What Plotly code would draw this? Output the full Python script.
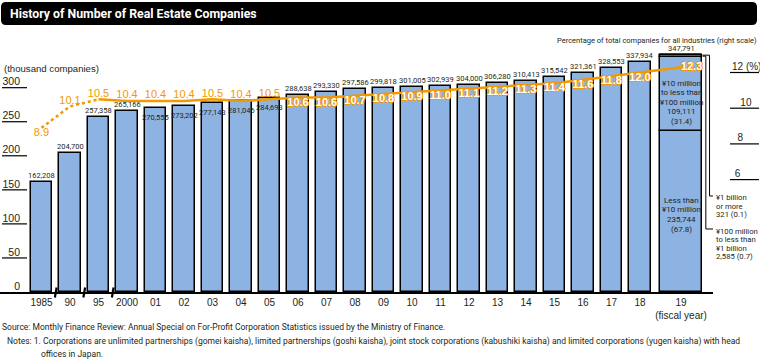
import numpy as np
import plotly.graph_objects as go

# ---------------- data ----------------
years = ["1985", "90", "95", "2000", "01", "02", "03", "04", "05", "06", "07", "08",
         "09", "10", "11", "12", "13", "14", "15", "16", "17", "18", "19"]
companies = [162208, 204700, 257358, 265166, 270555, 273202, 277143, 281046, 284693,
             288638, 293330, 297586, 299818, 301005, 302939, 304000, 306280, 310413,
             315542, 321361, 328553, 337934, 347791]
share_pct = [8.9, 10.1, 10.5, 10.4, 10.4, 10.4, 10.5, 10.4, 10.5, 10.6, 10.6, 10.7,
             10.8, 10.9, 11.0, 11.1, 11.2, 11.3, 11.4, 11.6, 11.8, 12.0, 12.3]
# FY2019 breakdown by capital size (bottom -> top)
cap_names = [["Less than", "¥10 million"],
             ["¥10 million", "to less than", "¥100 million"],
             ["¥100 million", "to less than", "¥1 billion"],
             ["¥1 billion", "or more"]]
cap_counts = [235744, 109111, 2585, 321]
cap_pct = [67.8, 31.4, 0.7, 0.1]
left_ticks = [0, 50, 100, 150, 200, 250, 300]
right_ticks = [6, 8, 10, 12]
right_tick_text = ["\u00a06", "\u00a0\u00a08", "\u00a0\u00a0\u00a010", "12 (%)"]

# ---------------- style ----------------
NARROW = "Roboto, Liberation Sans, sans-serif"
REG = "Liberation Sans, Arial, sans-serif"
INK = "#231f20"
BLUE = "#8db3e2"
ORANGE = "#f39800"

n = len(years)
xpos = np.arange(n, dtype=float)
xpos[-1] = 22.44          # wider FY2019 bar sits a little to the right
bar_w = 0.74
last_w = 1.5
vals_k = np.array(companies) / 1000.0
cap_k = np.array(cap_counts) / 1000.0
cap_base = np.concatenate([[0], np.cumsum(cap_k)[:-1]])

fig = go.Figure()

# main bars (1985 .. FY2018)
fig.add_trace(go.Bar(x=xpos[:-1], y=vals_k[:-1], width=bar_w,
                     marker=dict(color=BLUE, line=dict(color="black", width=1.5)),
                     hoverinfo="skip", showlegend=False))
# FY2019 stacked by capital size
for k in range(len(cap_k)):
    fig.add_trace(go.Bar(x=[xpos[-1]], y=[cap_k[k]], base=[cap_base[k]], width=last_w,
                         marker=dict(color=BLUE, line=dict(color="black", width=1.5)),
                         hoverinfo="skip", showlegend=False))

# percentage line (right scale)
fig.add_trace(go.Scatter(x=xpos[:3], y=share_pct[:3], mode="lines", yaxis="y2",
                         line=dict(color=ORANGE, width=2.5, dash="dot"),
                         hoverinfo="skip", showlegend=False))
fig.add_trace(go.Scatter(x=xpos[2:], y=share_pct[2:], mode="lines", yaxis="y2",
                         line=dict(color=ORANGE, width=2.5),
                         hoverinfo="skip", showlegend=False))
# percentage labels: above the line (orange) and inside bars (white, orange edge)
fig.add_trace(go.Scatter(x=xpos[:9], y=share_pct[:9], mode="text", yaxis="y2",
                         text=[f"{v:.1f}" for v in share_pct[:9]],
                         textposition=["bottom center"] + ["top center"] * 8,
                         textfont=dict(family=REG, size=11, color=ORANGE),
                         cliponaxis=False, hoverinfo="skip", showlegend=False))
outline = ",".join(f"{dx}px {dy}px 0 {ORANGE}" for dx, dy in
                   [(1, 0), (-1, 0), (0, 1), (0, -1)])
fig.add_trace(go.Scatter(x=xpos[9:], y=share_pct[9:], mode="text", yaxis="y2",
                         text=[f"{v:.1f}" for v in share_pct[9:]],
                         textposition=["bottom center"] * (n - 10) + ["middle right"],
                         textfont=dict(family=REG, size=11, color="white", weight="bold",
                                       shadow=outline),
                         cliponaxis=False, hoverinfo="skip", showlegend=False))

annotations = []
# bar value labels (2001-2005 sit just inside the bar top)
for i in range(n):
    inside = 4 <= i <= 8
    annotations.append(dict(x=xpos[i], y=vals_k[i], xref="x", yref="y",
                            text=f"{companies[i]:,}", showarrow=False,
                            yanchor="top" if inside else "bottom",
                            yshift=-3 if inside else 0,
                            font=dict(family=NARROW, size=7.5, color=INK)))
# labels inside FY2019 segments
LS = 9.6
for k, extra in [(0, -3), (1, -8)]:
    lines = cap_names[k] + [f"{cap_counts[k]:,}", f"({cap_pct[k]})"]
    yc = cap_base[k] + cap_k[k] / 2
    m = len(lines)
    for j, t in enumerate(lines):
        annotations.append(dict(x=xpos[-1], y=yc, xref="x", yref="y", text=t, showarrow=False,
                                yshift=extra + (m - 1) / 2 * LS - j * LS,
                                font=dict(family=NARROW, size=8, color=INK)))
# call-outs for the two thin segments
LS2 = 8.6
for k, ytop in [(3, 197.5), (2, 231)]:
    lines = cap_names[k] + [f"{cap_counts[k]:,} ({cap_pct[k]})"]
    for j, t in enumerate(lines):
        annotations.append(dict(x=714 / 713, y=(292 - ytop - j * LS2) / 252, xref="paper",
                                yref="paper", text=t, showarrow=False, xanchor="left",
                                yanchor="middle",
                                font=dict(family=NARROW, size=7.7, color=INK)))

# titles and notes
annotations += [
    dict(x=8 / 713, y=(292 - 14) / 252, xref="paper", yref="paper", xanchor="left",
         yanchor="middle", showarrow=False,
         text="<b>History of Number of Real Estate Companies</b>",
         font=dict(family=NARROW, size=12.3, color="white")),
    dict(x=2 / 713, y=(292 - 68.5) / 252, xref="paper", yref="paper", xanchor="left",
         yanchor="middle", showarrow=False, text="(thousand companies)",
         font=dict(family=REG, size=9.6, color=INK)),
    dict(x=759 / 713, y=(292 - 40) / 252, xref="paper", yref="paper", xanchor="right",
         yanchor="middle", showarrow=False,
         text="Percentage of total companies for all industries (right scale)",
         font=dict(family=NARROW, size=7.5, color=INK)),
    dict(x=0, y=(292 - 327) / 252, xref="paper", yref="paper", xanchor="left",
         yanchor="middle", showarrow=False,
         text="Source: Monthly Finance Review: Annual Special on For-Profit Corporation "
              "Statistics issued by the Ministry of Finance.",
         font=dict(family=NARROW, size=8.5, color=INK)),
    dict(x=5 / 713, y=(292 - 341) / 252, xref="paper", yref="paper", xanchor="left",
         yanchor="middle", showarrow=False,
         text="Notes: 1. Corporations are unlimited partnerships (gomei kaisha), limited "
              "partnerships (goshi kaisha), joint stock corporations (kabushiki kaisha) and "
              "limited corporations (yugen kaisha) with head",
         font=dict(family=NARROW, size=8.5, color=INK)),
    dict(x=39 / 713, y=(292 - 354) / 252, xref="paper", yref="paper", xanchor="left",
         yanchor="middle", showarrow=False, text="offices in Japan.",
         font=dict(family=NARROW, size=8.5, color=INK)),
]

shapes = []
# title banner
x0, x1 = 1 / 713, 757 / 713
y0, y1 = (292 - 25) / 252, (292 - 2) / 252
rx, ry = 5 / 713, 5 / 252
shapes.append(dict(type="path", xref="paper", yref="paper", fillcolor="black",
                   line=dict(width=0), layer="below",
                   path=(f"M{x0+rx},{y1} L{x1-rx},{y1} Q{x1},{y1} {x1},{y1-ry} "
                         f"L{x1},{y0+ry} Q{x1},{y0} {x1-rx},{y0} L{x0+rx},{y0} "
                         f"Q{x0},{y0} {x0},{y0+ry} L{x0},{y1-ry} Q{x0},{y1} {x0+rx},{y1} Z")))
# tick underlines
for t in left_ticks[1:]:
    shapes.append(dict(type="line", xref="paper", yref="y", x0=2 / 713, x1=27 / 713,
                       y0=t, y1=t, line=dict(color="black", width=1.2)))
for t in right_ticks:
    shapes.append(dict(type="line", xref="paper", yref="y2", x0=730 / 713, x1=759 / 713,
                       y0=t, y1=t, line=dict(color="black", width=1.2)))
# axis break marks
for xb in [0.5, 1.5, 2.5]:
    shapes.append(dict(type="line", xref="x", yref="paper", x0=xb - 0.03, x1=xb + 0.03,
                       y0=-0.022, y1=0.018, line=dict(color="black", width=2.2)))
# connectors for thin FY2019 segments
right_edge = xpos[-1] + last_w / 2
tot = cap_base[-1] + cap_k[-1]
for xo, ytop, yend in [(0.12, tot - 1.5, (292 - 229) / (252 / 370)),
                       (0.25, tot, (292 - 196) / (252 / 370))]:
    shapes.append(dict(type="path", xref="x", yref="y",
                       path=(f"M{right_edge},{ytop} L{right_edge + xo},{ytop} "
                             f"L{right_edge + xo},{yend} L23.56,{yend}"),
                       line=dict(color="black", width=1)))

fig.update_layout(
    width=760, height=363,
    margin=dict(l=0, r=47, t=40, b=71, pad=0, autoexpand=False),
    paper_bgcolor="white", plot_bgcolor="white",
    barmode="overlay", bargap=0,
    showlegend=False,
    xaxis=dict(range=[-41.5 / 28.5, (713 - 41.5) / 28.5], tickmode="array",
               tickvals=list(xpos), ticktext=years[:-1] + ["19<br>(fiscal year)"],
               showgrid=False, zeroline=False, showline=True, linecolor="black",
               linewidth=1.5, ticks="", automargin=False,
               tickfont=dict(family=REG, size=10, color=INK)),
    yaxis=dict(range=[0, 370], tickmode="array", tickvals=left_ticks,
               anchor="free", position=20 / 713, side="left",
               showgrid=False, zeroline=False, showline=False, ticks="", automargin=False,
               ticklabelshift=-6, ticklabelstandoff=0,
               tickfont=dict(family=REG, size=10.5, color=INK)),
    yaxis2=dict(range=[12 - (292 - 72.5) / 17.85, 12 + (72.5 - 40) / 17.85],
                overlaying="y", side="right", tickmode="array", tickvals=right_ticks,
                ticktext=right_tick_text, showgrid=False, zeroline=False, showline=False,
                ticks="", ticklabelshift=-6, ticklabelstandoff=18, automargin=False,
                tickfont=dict(family=REG, size=10, color=INK)),
    annotations=annotations,
    shapes=shapes,
)

fig.write_html("out.html", config={"displayModeBar": False},
               post_script="document.body.style.margin='0';")
